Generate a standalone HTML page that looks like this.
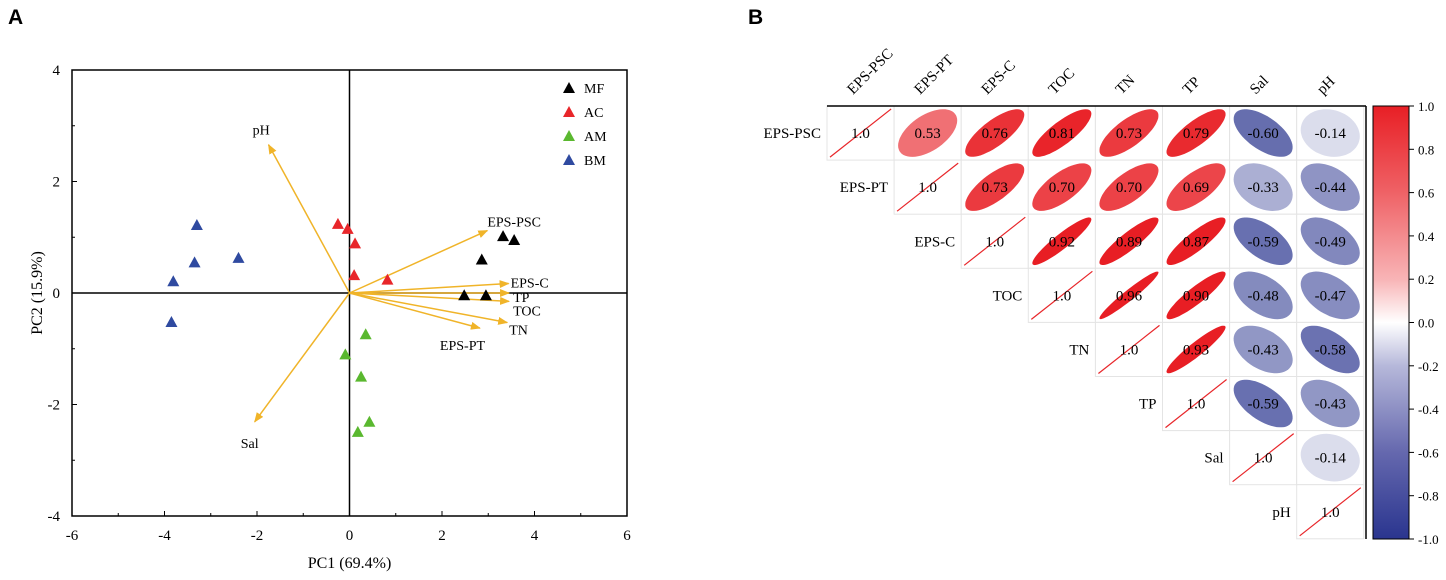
<!DOCTYPE html>
<html><head><meta charset="utf-8"><style>
body{margin:0;background:#fff;width:1446px;height:575px;overflow:hidden}
svg{font-family:"Liberation Serif",serif}
</style></head><body>
<svg id="s" width="1446" height="575" xmlns="http://www.w3.org/2000/svg">
<defs>
<linearGradient id="cb" x1="0" y1="0" x2="0" y2="1">
<stop offset="0" stop-color="#e81f25"/><stop offset="0.2" stop-color="#ef6266"/><stop offset="0.4" stop-color="#f8b4b6"/><stop offset="0.5" stop-color="#ffffff"/><stop offset="0.6" stop-color="#b6b8da"/><stop offset="0.8" stop-color="#6568ae"/><stop offset="1" stop-color="#2a358f"/>
</linearGradient>
<marker id="ah" markerWidth="10" markerHeight="8" refX="9" refY="4" orient="auto" markerUnits="userSpaceOnUse"><path d="M0,0 L10,4 L0,8 Z" fill="#f0b429"/></marker>
</defs>
<text x="8" y="24" font-family="Liberation Sans,sans-serif" font-weight="bold" font-size="21">A</text>
<text x="748" y="24" font-family="Liberation Sans,sans-serif" font-weight="bold" font-size="21">B</text>
<g id="pca"></g>
<g id="corr"></g>
</svg>
<script>
const NS="http://www.w3.org/2000/svg";
function mk(p,t,a,txt){const e=document.createElementNS(NS,t);for(const k in a)e.setAttribute(k,a[k]);if(txt!==undefined)e.textContent=txt;p.appendChild(e);return e;}
// ---- PCA data ----
const groups=["MF","AC","AM","BM"];
const groupColors=["#000000","#e8262a","#5ab82f","#2f4aa0"];
const mfX=[3.32,3.56,2.86,2.48,2.95], mfY=[1.02,0.95,0.60,-0.04,-0.04];
const acX=[-0.25,-0.04,0.12,0.10,0.82], acY=[1.24,1.15,0.89,0.32,0.24];
const amX=[0.35,-0.09,0.25,0.43,0.18], amY=[-0.74,-1.10,-1.50,-2.31,-2.49];
const bmX=[-3.30,-3.35,-2.40,-3.81,-3.85], bmY=[1.22,0.55,0.63,0.21,-0.52];
const varNames=["pH","Sal","EPS-PSC","EPS-C","TP","TOC","TN","EPS-PT"];
const varX=[-1.75,-2.05,2.98,3.44,3.45,3.45,3.41,2.82];
const varY=[2.66,-2.31,1.12,0.17,0.0,-0.15,-0.53,-0.63];
const xTicks=[-6,-4,-2,0,2,4,6], yTicks=[-4,-2,0,2,4];
const X0=72,X1=627,Y0=516,Y1=70;
const sx=v=>X0+(v+6)/12*(X1-X0), sy=v=>Y0-(v+4)/8*(Y0-Y1);
const g=document.getElementById('pca');
let e=mk(g,'rect',{x:X0,y:Y1,width:X1-X0,height:Y0-Y1,fill:'none',stroke:'#000','stroke-width':1.5});

mk(g,'line',{x1:sx(0),x2:sx(0),y1:Y1,y2:Y0,stroke:'#000','stroke-width':1.5});
mk(g,'line',{x1:X0,x2:X1,y1:sy(0),y2:sy(0),stroke:'#000','stroke-width':1.5});
for(let v=-6;v<=6;v++){mk(g,'line',{x1:sx(v),x2:sx(v),y1:Y0,y2:Y0-(v%2?3:5),stroke:'#000'});}
for(let v=-4;v<=4;v++){mk(g,'line',{x1:X0,x2:X0+(v%2?3:5),y1:sy(v),y2:sy(v),stroke:'#000'});}
xTicks.forEach(v=>{e=mk(g,'text',{x:sx(v),y:Y0+24,'text-anchor':'middle','font-size':15},String(v));});
yTicks.forEach(v=>{e=mk(g,'text',{x:X0-12,y:sy(v)+5,'text-anchor':'end','font-size':15},String(v));});
e=mk(g,'text',{x:sx(0),y:568,'text-anchor':'middle','font-size':16},'PC1 (69.4%)');
e=mk(g,'text',{x:0,y:0,'text-anchor':'middle','font-size':16,transform:`translate(42,${sy(0)}) rotate(-90)`},'PC2 (15.9%)');
const lblOff={"pH":[-16,-10],"Sal":[-14,26],"EPS-PSC":[0,-4],"EPS-C":[2,4],"TP":[4,9],"TOC":[4,14],"TN":[2,12],"EPS-PT":[-40,22]};
varNames.forEach((n,i)=>{
 e=mk(g,'line',{x1:sx(0),y1:sy(0),x2:sx(varX[i]),y2:sy(varY[i]),stroke:'#f0b429','stroke-width':1.5,'marker-end':'url(#ah)'});
 
 const o=lblOff[n];
 e=mk(g,'text',{x:sx(varX[i])+o[0],y:sy(varY[i])+o[1],'font-size':14},n);
 
});
const tri=(cx,cy,c)=>mk(g,'path',{d:`M${cx},${cy-6} L${cx+6},${cy+5} L${cx-6},${cy+5} Z`,fill:c});
[[mfX,mfY],[acX,acY],[amX,amY],[bmX,bmY]].forEach((s,k)=>{
 s[0].forEach((x,i)=>{e=tri(sx(x),sy(s[1][i]),groupColors[k]);});
 e=tri(569,88+k*24,groupColors[k]);
 e=mk(g,'text',{x:584,y:93+k*24,'font-size':14},groups[k]);
});
// ---- Correlation ----
const vars=["EPS-PSC","EPS-PT","EPS-C","TOC","TN","TP","Sal","pH"];
const r0=[1.0,0.53,0.76,0.81,0.73,0.79,-0.60,-0.14];
const r1=[0.53,1.0,0.73,0.70,0.70,0.69,-0.33,-0.44];
const r2=[0,0,1.0,0.92,0.89,0.87,-0.59,-0.49];
const r3=[0,0,0,1.0,0.96,0.90,-0.48,-0.47];
const r4=[0,0,0,0,1.0,0.93,-0.43,-0.58];
const r5=[0,0,0,0,0,1.0,-0.59,-0.43];
const r6=[0,0,0,0,0,0,1.0,-0.14];
const r7=[0,0,0,0,0,0,0,1.0];
const rows=[r0,r1,r2,r3,r4,r5,r6,r7];
const cbTicks=[1.0,0.8,0.6,0.4,0.2,0.0,-0.2,-0.4,-0.6,-0.8,-1.0];
const C0=827,CW=67.1,R0=106,RH=54.1;
const cg=document.getElementById('corr');
function col(r){const t=Math.min(1,Math.abs(r)*1.2);const c=r>0?[232,30,36]:[42,53,143];return `rgb(${c.map(v=>Math.round(v*t+255*(1-t))).join(',')})`;}
rows.forEach((row,i)=>{
 const y=R0+i*RH;
 e=mk(cg,'text',{x:C0+i*CW-6,y:y+RH/2+5,'text-anchor':'end','font-size':15},vars[i]);
 
 for(let j=i;j<8;j++){
  const x=C0+j*CW,cx=x+CW/2,cy=y+RH/2;
  e=mk(cg,'rect',{x:x,y:y,width:CW,height:RH,fill:'#fff',stroke:'#e4e4e4','stroke-width':1});
  
  const r=row[j];
  if(j===i){
   e=mk(cg,'line',{x1:x+3,y1:y+RH-3,x2:x+CW-3,y2:y+3,stroke:'#e8262a','stroke-width':1.2});
   
  } else {
   const d=Math.acos(Math.max(-0.999,Math.min(0.999,r)));let p='';
   const ax=CW/2*0.88,ay=RH/2*0.88;
   for(let k=0;k<=60;k++){const t=k/60*2*Math.PI;const px=Math.cos(t+d/2),py=Math.cos(t-d/2);p+=(k?'L':'M')+(cx+px*ax).toFixed(1)+','+(cy-py*ay).toFixed(1);}
   e=mk(cg,'path',{d:p+'Z',fill:col(r)});
   
  }
  e=mk(cg,'text',{x:cx,y:cy+5,'text-anchor':'middle','font-size':15},r.toFixed(j===i?1:2));
  
 }
});
vars.forEach((v,j)=>{e=mk(cg,'text',{x:0,y:0,'font-size':15,transform:`translate(${C0+j*CW+26},${95}) rotate(-45)`},v);});
mk(cg,'line',{x1:C0,x2:1366,y1:R0,y2:R0,stroke:'#000','stroke-width':1.5});
mk(cg,'line',{x1:1366,x2:1366,y1:R0,y2:539,stroke:'#000','stroke-width':1.5});
e=mk(cg,'rect',{x:1373,y:R0,width:36,height:539-R0,fill:'url(#cb)',stroke:'#000','stroke-width':1});

cbTicks.forEach(v=>{const y=R0+(1-v)/2*(539-R0);mk(cg,'line',{x1:1409,x2:1414,y1:y,y2:y,stroke:'#000'});
 e=mk(cg,'text',{x:1418,y:y+5,'font-size':13},v.toFixed(1));});
</script>
</body></html>
